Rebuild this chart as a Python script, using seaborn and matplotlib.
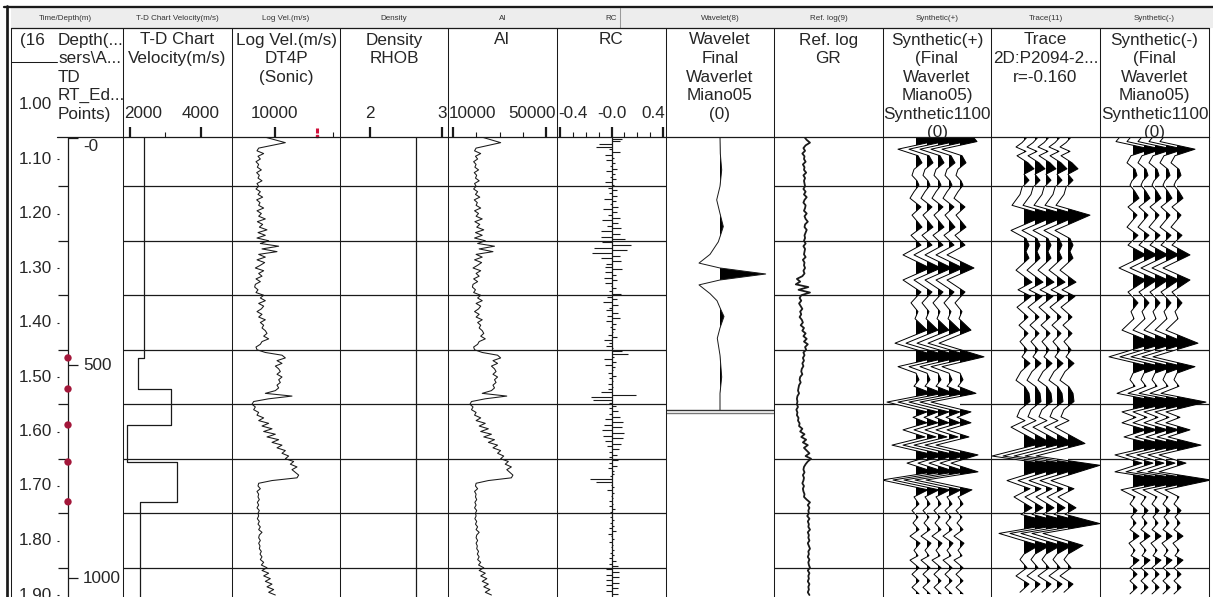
import numpy as np
import matplotlib
matplotlib.use("Agg")
import matplotlib.pyplot as plt
import matplotlib.transforms as mtransforms
import seaborn as sns

sns.set_theme(style="white")
plt.rcParams['font.family'] = ['Liberation Sans', 'DejaVu Sans']

# ------------------------------------------------------------------ data
T0, DT = 1.06, 0.005          # sampling of the well logs (s TWT)

log_vel = [8550, 10050, 11550, 9550, 7550, 7300, 8300, 7450, 7800, 7150,
           7550, 7350, 7950, 7250, 7650, 7450, 8050, 7300, 7550, 7150,
           7800, 7450, 8150, 7250, 7750, 7550, 8300, 7300, 7950, 7550,
           8550, 7350, 8150, 7650, 8800, 7450, 8550, 7300, 9050, 7800,
           10550, 8050, 10300, 7550, 8550, 7300, 8450, 7800, 7050, 8300,
           7550, 8050, 7150, 7800, 7050, 6950, 7450, 7150, 8300, 7800,
           8550, 7550, 8300, 7950, 7300, 8050, 7550, 8550, 7800, 8300,
           8050, 8550, 8800, 8300, 9050, 8050, 7800, 7150, 7300, 8550,
           11050, 11550, 10300, 11050, 10050, 10550, 10800, 10300, 11050, 10550,
           10800, 10300, 10550, 10050, 8550, 12550, 9050, 6800, 6550, 7050,
           6800, 7550, 7300, 8300, 7550, 9050, 8050, 9550, 8300, 10050,
           8800, 10550, 9550, 11050, 10300, 11550, 11050, 12050, 11550, 12800,
           12300, 13300, 12550, 13050, 13550, 13300, 9550, 7550, 7450, 7800,
           7300, 7550, 7450, 7650, 7350, 7550, 7300, 7650, 7450, 7550,
           7350, 7650, 7450, 7800, 7550, 8050, 7650, 7550, 7800, 7550,
           7750, 7650, 7950, 7750, 8050, 7800, 8300, 7950, 8800, 8050,
           9050, 8300, 9300, 8550, 9550, 8800, 9800, 9050, 10050]

gr_api = [56, 60, 66, 58, 54, 57, 52, 56, 55, 58, 53, 56, 55, 59, 54, 57, 55, 56,
          57, 54, 58, 55, 60, 56, 54, 58, 57, 55, 60, 56, 58, 62, 57, 56, 60, 58, 56,
          57, 55, 58, 54, 57, 56, 55, 58, 53, 56, 55, 57, 54, 56, 52,
          42, 48, 40, 63, 45, 66, 50,
          47, 50, 46, 49, 52, 48, 50, 47, 51, 53, 49, 55, 52, 58, 54,
          60, 55, 62, 57, 59, 54, 56, 53,
          55, 52, 54, 51, 50, 52, 48, 47, 49, 46, 45, 44, 46, 43, 42,
          43, 42, 44, 41, 43, 42, 45, 44, 47,
          46, 52, 48, 56, 50, 59, 53, 62, 55, 60, 65, 58, 68, 62,
          58, 55, 54, 56, 53, 55, 54, 52, 55, 53, 54, 56, 55, 60,
          66, 62, 65, 63, 64, 61, 65, 62, 64, 63, 66, 62, 64, 63, 65, 62, 64, 66,
          63, 64, 62, 65, 63, 64, 66, 62, 65, 63, 64, 62, 65, 63, 64, 62, 65]

rhob_time = [1.0596, 1.9037]
rhob = [2.64, 2.64]

td_bounds = [1.0596, 1.465, 1.522, 1.588, 1.656, 1.729, 1.9037]
td_vel = [2394, 2225, 3155, 1915, 3324, 2282]

checkshot_time = [1.465, 1.522, 1.588, 1.656, 1.729]
depth_tick_time = [1.0615, 1.478, 1.869]
depth_tick_labels = ["-0", "500", "1000"]

time_ticks = [1.00, 1.10, 1.20, 1.30, 1.40, 1.50, 1.60, 1.70, 1.80, 1.90]
time_tick_labels = ["1.00", "1.10", "1.20", "1.30", "1.40", "1.50", "1.60", "1.70", "1.80", "1.90"]
grid_times = [1.15, 1.25, 1.35, 1.45, 1.55, 1.65, 1.75, 1.85]

wavelet_time = [1.0596, 1.09, 1.12, 1.15, 1.175, 1.20, 1.224, 1.24, 1.252, 1.275, 1.291,
                1.30, 1.311, 1.322, 1.331, 1.347, 1.36, 1.375, 1.389, 1.41, 1.429,
                1.46, 1.50, 1.53, 1.561]
wavelet_amp = [0, 0.3, 1.7, 0, -3.3, 0, 3.3, 0.5, -1.7, -10, -21,
               0, 45.7, 0, -21, -10, -3, 0.5, 4, 0, -2.7,
               0, 1.7, 0, 0]

syn_time = [1.057, 1.068, 1.082, 1.094, 1.107, 1.119, 1.130, 1.140, 1.148, 1.160,
            1.172, 1.188, 1.203, 1.214, 1.225, 1.240, 1.258, 1.276, 1.300, 1.322,
            1.344, 1.364, 1.380, 1.393, 1.414, 1.438, 1.463, 1.481, 1.493, 1.505,
            1.517, 1.530, 1.546, 1.564, 1.574, 1.584, 1.597, 1.610, 1.625, 1.643,
            1.658, 1.674, 1.689, 1.707, 1.720, 1.733, 1.745, 1.757, 1.768, 1.780,
            1.792, 1.805, 1.818, 1.828, 1.836, 1.850, 1.862, 1.874, 1.886, 1.898]
syn_amp = [12, 17, -18, 2, 6, -2, -4, 1, 3, -2,
           -6, 5, -4, 1, 6, -5, 5, -13, 14, -13,
           5, -5, 2, -1, 11, -21, 24, -18, 0, 3,
           -2, 16, -29, 11, -3, 11, -13, 9, -24, 18,
           -9, 18, -34, 12, -2, 3, -4, 2, -3, 3,
           -6, 4, -2, 2, -6, 3, -4, 3, -4, 3]

trace_time = [1.060, 1.070, 1.078, 1.086, 1.094, 1.107, 1.118, 1.128, 1.139, 1.152,
              1.165, 1.185, 1.203, 1.231, 1.246, 1.258, 1.270, 1.282, 1.304, 1.326,
              1.340, 1.352, 1.372, 1.390, 1.405, 1.420, 1.435, 1.450, 1.463, 1.475,
              1.490, 1.506, 1.518, 1.530, 1.545, 1.560, 1.573, 1.580, 1.592, 1.622,
              1.645, 1.662, 1.690, 1.705, 1.720, 1.740, 1.752, 1.769, 1.787, 1.809,
              1.825, 1.835, 1.850, 1.865, 1.880, 1.895]
trace_amp = [3, -2, -8, 2, -7, 4, 10, 0, 5, -2,
             -4, -12, 22, -13, 2, 5, 2, 5, -8, 8,
             -6, 7, -7, 4, -5, 4, -4, 3, -2, 6,
             -3, -8, 1, 5, 6, -4, -7, 1, -13, 17,
             -32, 32, -17, 6, -10, 8, -3, 32, -25, 15,
             0, -4, 3, -8, 5, -4]

td_major, td_major_labels, td_minor = [2000, 4000], ["2000", "4000"], [3000]
vel_major, vel_major_labels, vel_minor = [10000], ["10000"], [18700]
rho_major, rho_major_labels, rho_minor = [2, 3], ["2", "3"], []
ai_major, ai_major_labels, ai_minor = [10000, 50000], ["10000", "50000"], [20000, 30000, 40000]
rc_major, rc_major_labels = [-0.4, 0.0, 0.4], ["-0.4", "-0.0", "0.4"]
rc_minor = [-0.3, -0.2, -0.1, 0.1, 0.2, 0.3]

header_labels = ["Time/Depth(m)", "T-D Chart Velocity(m/s)", "Log Vel.(m/s)", "Density",
                 "AI", "RC", "Wavelet(8)", "Ref. log(9)", "Synthetic(+)", "Trace(11)",
                 "Synthetic(-)"]
column_titles = [
    ["Depth(...", "sers\\A...", "TD", "RT_Ed...", "Points)"],
    ["T-D Chart", "Velocity(m/s)"],
    ["Log Vel.(m/s)", "DT4P", "(Sonic)"],
    ["Density", "RHOB"],
    ["AI"],
    ["RC"],
    ["Wavelet", "Final", "Waverlet", "Miano05", "(0)"],
    ["Ref. log", "GR"],
    ["Synthetic(+)", "(Final", "Waverlet", "Miano05)", "Synthetic1100", "(0)"],
    ["Trace", "2D:P2094-2...", "r=-0.160"],
    ["Synthetic(-)", "(Final", "Waverlet", "Miano05)", "Synthetic1100", "(0)"],
]

# ------------------------------------------------------------------ layout
W, H = 1213, 597
EDGES = [7, 123, 232, 340, 448, 557, 666, 774, 883, 991, 1100, 1209]
Y_HDR_TOP, Y_HDR_BOT, Y_DATA_TOP, Y_DATA_BOT = 8, 28, 137, 597
PX_PER_S, Y_T110 = 545.0, 159.0
T_TOP = 1.10 - (Y_T110 - Y_DATA_TOP) / PX_PER_S
T_BOT = 1.10 + (Y_DATA_BOT - Y_T110) / PX_PER_S
T_TOP0 = 1.10 - (Y_T110 - Y_HDR_BOT) / PX_PER_S
FS = 12.3
Y_TITLE0, Y_TITLE_STEP, Y_SCALE = 40, 18.6, 114
LW1 = 0.75  # one pixel in points
GRID_C = '#1a1a1a'
WIG_OFFSETS = [33, 44, 55, 66, 77]

fig = plt.figure(figsize=(W / 100, H / 100), dpi=100)
fig.patch.set_facecolor('white')
renderer = fig.canvas.get_renderer()

# title canvas sits below the data panels so the wiggles may cover the last title line
tc = fig.add_axes([0, 0, 1, 1], zorder=-1)
tc.set_xlim(0, W)
tc.set_ylim(H, 0)
tc.set_axis_off()


def px_axes(x0, y0, x1, y1):
    ax = fig.add_axes([x0 / W, 1 - y1 / H, (x1 - x0) / W, (y1 - y0) / H])
    ax.set_axis_off()
    return ax


def frac(ypx):
    return (Y_DATA_BOT - ypx) / (Y_DATA_BOT - Y_DATA_TOP)


def scale(ax, major, labels, minor, left, right):
    tr = ax.get_xaxis_transform()
    ax.vlines(major, frac(127), frac(137), transform=tr, color='k', lw=1.6, clip_on=False)
    if minor:
        ax.vlines(minor, frac(131.5), frac(137), transform=tr, color='k', lw=0.8, clip_on=False)
    for v, lab in zip(major, labels):
        txt = ax.text(v, frac(Y_SCALE), lab, transform=tr, ha='center', va='center',
                      fontsize=FS, clip_on=False)
        bb = txt.get_window_extent(renderer)
        shift = 0.0
        if bb.x0 < left + 1:
            shift = left + 1 - bb.x0
        elif bb.x1 > right - 1:
            shift = right - 1 - bb.x1
        if shift:
            txt.set_transform(tr + mtransforms.ScaledTranslation(shift / 100, 0, fig.dpi_scale_trans))


def data_axes(i):
    ax = px_axes(EDGES[i], Y_DATA_TOP, EDGES[i + 1], Y_DATA_BOT)
    for g in grid_times:
        ax.axhline(g, color=GRID_C, lw=0.9, zorder=0.5)
    return ax


def finish(ax, xlim):
    ax.set_xlim(*xlim)
    ax.set_ylim(T_BOT, T_TOP)


def wiggle(ax, t, amp, offsets, gain=1.0):
    t = np.asarray(t, float)
    a = np.asarray(amp, float) * gain
    z = 2
    for off in offsets:
        x = off + a
        ax.fill_betweenx(t, off, x, where=a <= 0, interpolate=True, color='white', lw=0, zorder=z)
        ax.fill_betweenx(t, off, x, where=a >= 0, interpolate=True, color='black', lw=0, zorder=z + 0.1)
        ax.plot(x, t, color='black', lw=0.7, zorder=z + 0.2)
        z += 1


t_log = T0 + DT * np.arange(len(log_vel))
t_gr = T0 + DT * np.arange(len(gr_api))
vel = np.asarray(log_vel, float)
ai = vel * rhob[0]
rc = (ai[1:] - ai[:-1]) / (ai[1:] + ai[:-1])
t_rc = t_log[:-1] + DT / 2

# --- column 0 : time / depth
ax0 = px_axes(EDGES[0], Y_HDR_BOT, EDGES[1], Y_DATA_BOT)
ax0.set_xlim(0, EDGES[1] - EDGES[0])
ax0.set_ylim(T_BOT, T_TOP0)
for tt, lab in zip(time_ticks, time_tick_labels):
    ax0.text(45, tt, lab, ha='right', va='center', fontsize=FS)
ax0.hlines(time_ticks[1:], 49.5, 51.5, color='k', lw=0.8)
ax0.hlines(grid_times, 51, 61, color=GRID_C, lw=0.9)
ax0.vlines(61, T_TOP, T_BOT, color='k', lw=0.9)
ax0.hlines(depth_tick_time, 61, 71, color='k', lw=0.9)
for k, (tt, lab) in enumerate(zip(depth_tick_time, depth_tick_labels)):
    ax0.text(76, tt + (0.002 if k == 0 else 0), lab, ha='left', va='top' if k == 0 else 'center',
             fontsize=FS)
sns.scatterplot(x=[61] * len(checkshot_time), y=checkshot_time, ax=ax0, s=28,
                color='#a3173a', edgecolor='none', zorder=5)
ax0.set_xlim(0, EDGES[1] - EDGES[0])
ax0.set_ylim(T_BOT, T_TOP0)
ax0.set_axis_off()

# --- T-D chart velocity
ax = data_axes(1)
xs, ys = [], []
for k, v in enumerate(td_vel):
    xs += [v, v]
    ys += [td_bounds[k], td_bounds[k + 1]]
sns.lineplot(x=xs, y=ys, orient='y', sort=False, estimator=None, color='k', lw=0.9, ax=ax)
finish(ax, (1803, 4873))
scale(ax, td_major, td_major_labels, td_minor, EDGES[1], EDGES[2])
ax.set_axis_off()

# --- Log velocity
ax = data_axes(2)
sns.lineplot(x=vel, y=t_log, orient='y', sort=False, estimator=None, color='k', lw=0.75, ax=ax)
finish(ax, (3550, 19750))
scale(ax, vel_major, vel_major_labels, vel_minor, EDGES[2], EDGES[3])
tr = ax.get_xaxis_transform()
ax.plot([16300, 16300], [frac(127.5), frac(133)], transform=tr, color='#d0103a', lw=2.2,
        clip_on=False, solid_capstyle='butt')
ax.plot([16300], [frac(135.5)], transform=tr, marker='s', ms=2, color='#d0103a', clip_on=False)
ax.set_axis_off()

# --- Density
ax = data_axes(3)
sns.lineplot(x=rhob, y=rhob_time, orient='y', sort=False, estimator=None, color='k', lw=0.9, ax=ax)
finish(ax, (1.583, 3.083))
scale(ax, rho_major, rho_major_labels, rho_minor, EDGES[3], EDGES[4])
ax.set_axis_off()

# --- AI
ax = data_axes(4)
sns.lineplot(x=ai, y=t_log, orient='y', sort=False, estimator=None, color='k', lw=0.75, ax=ax)
finish(ax, (7850, 54730))
scale(ax, ai_major, ai_major_labels, ai_minor, EDGES[4], EDGES[5])
ax.set_axis_off()

# --- RC
ax = data_axes(5)
ax.hlines(t_rc, 0, rc, color='k', lw=0.8)
ax.axvline(0, color='k', lw=0.9)
finish(ax, (-0.423, 0.423))
scale(ax, rc_major, rc_major_labels, rc_minor, EDGES[5], EDGES[6])
ax.set_axis_off()

# --- Wavelet
ax = px_axes(EDGES[6], Y_DATA_TOP, EDGES[7], Y_DATA_BOT)
wt = np.asarray(wavelet_time)
wa = np.asarray(wavelet_amp)
ax.fill_betweenx(wt, 0, wa, where=wa >= 0, interpolate=True, color='black', lw=0)
sns.lineplot(x=wa, y=wt, orient='y', sort=False, estimator=None, color='k', lw=0.7, ax=ax)
ax.axhline(wavelet_time[-1], color='#333333', lw=1.0)
ax.axhline(wavelet_time[-1] + 0.0055, color='#777777', lw=1.0)
finish(ax, (-54, EDGES[7] - EDGES[6] - 54))
ax.set_axis_off()

# --- Ref log GR
ax = data_axes(7)
sns.lineplot(x=gr_api, y=t_gr, orient='y', sort=False, estimator=None, color='k', lw=1.3, ax=ax)
finish(ax, (0, 200))
ax.set_axis_off()

# --- Synthetic(+), Trace, Synthetic(-)
for i, (tt, aa) in zip([8, 9, 10], [(syn_time, syn_amp), (trace_time, trace_amp),
                                    (syn_time, [-v for v in syn_amp])]):
    ax = data_axes(i)
    wiggle(ax, tt, aa, WIG_OFFSETS)
    finish(ax, (0, EDGES[i + 1] - EDGES[i]))
    ax.set_axis_off()

# ------------------------------------------------------------------ frame canvas
cv = fig.add_axes([0, 0, 1, 1], zorder=10)
cv.set_xlim(0, W)
cv.set_ylim(H, 0)
cv.set_axis_off()
cv.patch.set_alpha(0)

tc.fill_between([11, W], Y_HDR_TOP, Y_HDR_BOT, color='#ededed', lw=0)
cv.plot([620, 620], [Y_HDR_TOP, Y_HDR_BOT], color='#9a9a9a', lw=LW1)
cv.plot([4, W], [7, 7], color='k', lw=2.2 * LW1)
cv.plot([6.5, 6.5], [6, H], color='k', lw=2.6 * LW1)
cv.plot([10.5, 10.5], [Y_HDR_BOT, H], color='k', lw=1.0 * LW1)
cv.plot([10.5, EDGES[-1]], [Y_HDR_BOT, Y_HDR_BOT], color='k', lw=1.2 * LW1)
cv.plot([57, EDGES[-1]], [Y_DATA_TOP, Y_DATA_TOP], color='k', lw=1.2 * LW1)
cv.plot([10.5, 57], [62, 62], color='k', lw=1.0 * LW1)
for x in EDGES[1:]:
    cv.plot([x, x], [Y_HDR_BOT, H], color='k', lw=1.0 * LW1)

for i, lab in enumerate(header_labels):
    cx = (EDGES[i] + EDGES[i + 1]) / 2
    if lab == "RC":
        tc.text(617, 18, lab, ha='right', va='center', fontsize=5.8, color='#333333')
    else:
        tc.text(cx, 18, lab, ha='center', va='center', fontsize=5.8, color='#333333')

tc.text(20, Y_TITLE0, "(16", ha='left', va='center', fontsize=FS)
for i, lines in enumerate(column_titles):
    cx = (EDGES[i] + EDGES[i + 1]) / 2
    for k, line in enumerate(lines):
        y = Y_TITLE0 + k * Y_TITLE_STEP
        if i == 0:
            tc.text(58, y, line, ha='left', va='center', fontsize=FS)
        else:
            tc.text(cx, y, line, ha='center', va='center', fontsize=FS)

fig.savefig("out.png", dpi=100, facecolor='white')
